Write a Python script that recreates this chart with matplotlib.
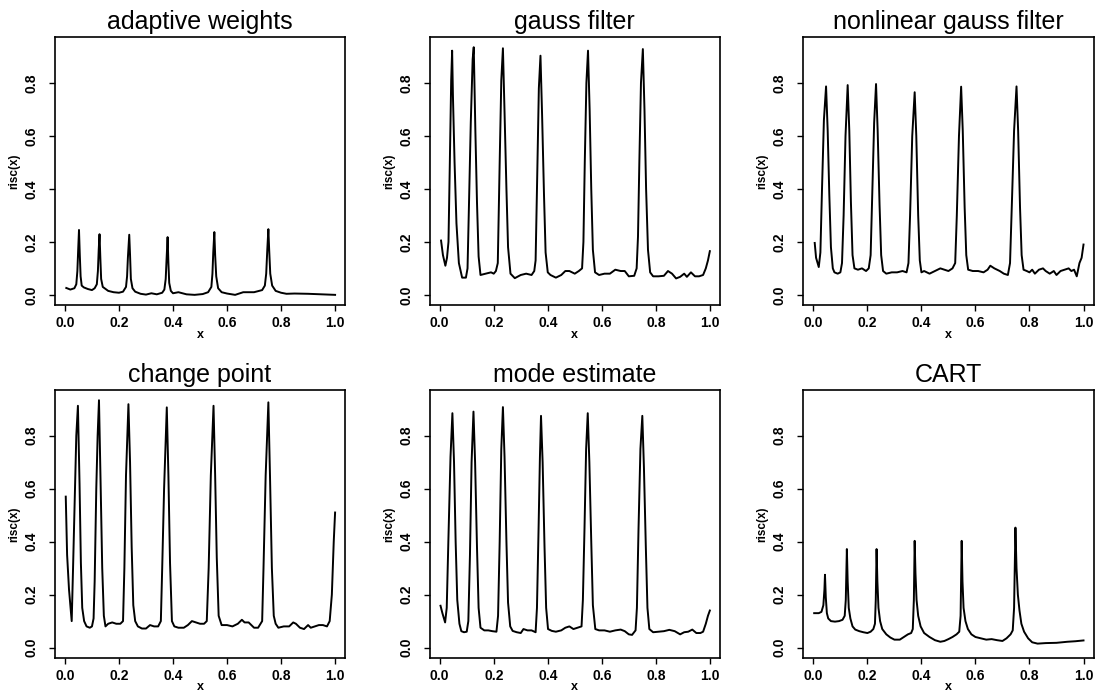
'''
risc(x) for six estimators, 2x3 panel figure
'''

import matplotlib
matplotlib.use('Agg')
import matplotlib.pyplot as plt

plt.rcParams['font.family'] = ['Liberation Sans', 'DejaVu Sans']

titles = ['adaptive weights', 'gauss filter', 'nonlinear gauss filter',
          'change point', 'mode estimate', 'CART']

# (x, risc) points
aw_pts = [(0.005, 0.026), (0.02, 0.02), (0.035, 0.025), (0.042, 0.04), (0.046, 0.09),
          (0.049, 0.17), (0.052, 0.245), (0.055, 0.15), (0.058, 0.07), (0.062, 0.035),
          (0.07, 0.028), (0.085, 0.022), (0.1, 0.018), (0.11, 0.025), (0.118, 0.04),
          (0.122, 0.09), (0.125, 0.17), (0.128, 0.229), (0.131, 0.14), (0.134, 0.06),
          (0.14, 0.03), (0.16, 0.015), (0.18, 0.01), (0.2, 0.008), (0.215, 0.012),
          (0.226, 0.03), (0.23, 0.07), (0.233, 0.14), (0.238, 0.227), (0.241, 0.15),
          (0.244, 0.06), (0.25, 0.025), (0.26, 0.012), (0.28, 0.004), (0.3, 0.001),
          (0.32, 0.006), (0.34, 0.002), (0.36, 0.008), (0.368, 0.02), (0.373, 0.06),
          (0.376, 0.13), (0.38, 0.218), (0.383, 0.12), (0.386, 0.045), (0.392, 0.015),
          (0.4, 0.006), (0.42, 0.01), (0.45, 0.002), (0.48, 0.0), (0.51, 0.003),
          (0.53, 0.01), (0.542, 0.03), (0.546, 0.08), (0.549, 0.16), (0.553, 0.237),
          (0.556, 0.15), (0.56, 0.07), (0.567, 0.025), (0.58, 0.01), (0.6, 0.005),
          (0.63, 0.0), (0.66, 0.01), (0.7, 0.01), (0.73, 0.018), (0.74, 0.035),
          (0.745, 0.08), (0.749, 0.17), (0.753, 0.248), (0.756, 0.17), (0.76, 0.08),
          (0.767, 0.035), (0.78, 0.015), (0.8, 0.008), (0.82, 0.004), (0.85, 0.005),
          (0.9, 0.004), (0.95, 0.002), (1.0, 0.0)]

gauss_pts = [(0.005, 0.205), (0.012, 0.15), (0.021, 0.11), (0.027, 0.14), (0.0325, 0.2),
             (0.0375, 0.5), (0.0425, 0.81), (0.046, 0.922), (0.049, 0.75), (0.055, 0.5),
             (0.062, 0.27), (0.071, 0.12), (0.083, 0.065), (0.097, 0.065), (0.103, 0.1),
             (0.109, 0.37), (0.115, 0.65), (0.122, 0.89), (0.126, 0.935), (0.132, 0.62),
             (0.138, 0.35), (0.144, 0.145), (0.151, 0.075), (0.17, 0.08), (0.19, 0.085),
             (0.2, 0.08), (0.208, 0.09), (0.215, 0.12), (0.222, 0.5), (0.228, 0.81),
             (0.234, 0.931), (0.24, 0.69), (0.247, 0.4), (0.253, 0.18), (0.262, 0.08),
             (0.278, 0.063), (0.3, 0.075), (0.32, 0.08), (0.34, 0.075), (0.35, 0.09),
             (0.355, 0.13), (0.361, 0.45), (0.367, 0.78), (0.373, 0.903), (0.379, 0.68),
             (0.386, 0.38), (0.392, 0.16), (0.4, 0.085), (0.41, 0.075), (0.43, 0.065),
             (0.45, 0.075), (0.465, 0.09), (0.48, 0.09), (0.5, 0.08), (0.515, 0.09),
             (0.527, 0.1), (0.532, 0.2), (0.537, 0.5), (0.543, 0.8), (0.549, 0.922),
             (0.555, 0.7), (0.561, 0.4), (0.567, 0.17), (0.575, 0.085), (0.59, 0.075),
             (0.61, 0.08), (0.63, 0.08), (0.65, 0.095), (0.67, 0.09), (0.685, 0.09),
             (0.7, 0.07), (0.72, 0.072), (0.729, 0.1), (0.734, 0.22), (0.739, 0.5),
             (0.745, 0.8), (0.752, 0.928), (0.758, 0.7), (0.764, 0.4), (0.771, 0.17),
             (0.779, 0.085), (0.79, 0.07), (0.81, 0.07), (0.83, 0.072), (0.845, 0.09),
             (0.86, 0.08), (0.875, 0.062), (0.89, 0.068), (0.905, 0.08), (0.915, 0.068),
             (0.93, 0.085), (0.945, 0.07), (0.96, 0.07), (0.975, 0.075), (0.985, 0.1),
             (0.993, 0.13), (1.0, 0.165)]

nlgauss_pts = [(0.005, 0.196), (0.01, 0.14), (0.02, 0.105), (0.026, 0.16), (0.032, 0.4),
               (0.039, 0.66), (0.047, 0.787), (0.053, 0.62), (0.059, 0.38), (0.065, 0.18),
               (0.072, 0.1), (0.078, 0.085), (0.09, 0.08), (0.1, 0.085), (0.106, 0.12),
               (0.112, 0.3), (0.119, 0.6), (0.127, 0.792), (0.133, 0.62), (0.139, 0.35),
               (0.145, 0.15), (0.152, 0.1), (0.165, 0.095), (0.18, 0.1), (0.195, 0.09),
               (0.205, 0.1), (0.212, 0.15), (0.218, 0.38), (0.225, 0.65), (0.232, 0.796),
               (0.238, 0.62), (0.245, 0.34), (0.251, 0.15), (0.258, 0.09), (0.27, 0.08),
               (0.29, 0.085), (0.31, 0.085), (0.33, 0.09), (0.345, 0.085), (0.352, 0.12),
               (0.358, 0.3), (0.366, 0.6), (0.375, 0.765), (0.381, 0.6), (0.388, 0.3),
               (0.394, 0.13), (0.4, 0.085), (0.41, 0.09), (0.43, 0.08), (0.45, 0.09),
               (0.47, 0.1), (0.485, 0.095), (0.5, 0.09), (0.515, 0.1), (0.525, 0.12),
               (0.531, 0.3), (0.539, 0.6), (0.547, 0.786), (0.553, 0.62), (0.56, 0.33),
               (0.566, 0.15), (0.573, 0.095), (0.59, 0.09), (0.61, 0.09), (0.63, 0.085),
               (0.645, 0.095), (0.655, 0.11), (0.67, 0.1), (0.69, 0.09), (0.705, 0.08),
               (0.72, 0.075), (0.728, 0.12), (0.735, 0.35), (0.743, 0.62), (0.752, 0.787),
               (0.758, 0.62), (0.765, 0.33), (0.771, 0.15), (0.778, 0.095), (0.79, 0.09),
               (0.8, 0.085), (0.81, 0.095), (0.82, 0.08), (0.835, 0.095), (0.85, 0.1),
               (0.86, 0.09), (0.875, 0.08), (0.89, 0.09), (0.9, 0.075), (0.915, 0.09),
               (0.93, 0.095), (0.945, 0.1), (0.955, 0.09), (0.965, 0.095), (0.975, 0.07),
               (0.985, 0.12), (0.993, 0.14), (1.0, 0.19)]

cp_pts = [(0.003, 0.57), (0.008, 0.35), (0.015, 0.22), (0.025, 0.1), (0.03, 0.3),
          (0.036, 0.55), (0.042, 0.8), (0.048, 0.913), (0.054, 0.62), (0.059, 0.32),
          (0.064, 0.15), (0.071, 0.1), (0.08, 0.08), (0.092, 0.075), (0.1, 0.08),
          (0.106, 0.11), (0.11, 0.25), (0.116, 0.6), (0.121, 0.8), (0.126, 0.934),
          (0.132, 0.62), (0.138, 0.3), (0.144, 0.12), (0.15, 0.08), (0.16, 0.09),
          (0.175, 0.095), (0.19, 0.09), (0.205, 0.09), (0.215, 0.1), (0.22, 0.3),
          (0.226, 0.65), (0.235, 0.919), (0.241, 0.7), (0.247, 0.38), (0.253, 0.16),
          (0.26, 0.1), (0.27, 0.08), (0.285, 0.072), (0.3, 0.072), (0.315, 0.085),
          (0.33, 0.08), (0.345, 0.08), (0.355, 0.1), (0.36, 0.3), (0.367, 0.6),
          (0.377, 0.907), (0.383, 0.65), (0.389, 0.32), (0.396, 0.1), (0.405, 0.08),
          (0.42, 0.075), (0.44, 0.075), (0.455, 0.085), (0.47, 0.1), (0.485, 0.095),
          (0.5, 0.09), (0.515, 0.09), (0.525, 0.1), (0.532, 0.3), (0.54, 0.65),
          (0.55, 0.913), (0.556, 0.65), (0.562, 0.34), (0.569, 0.12), (0.58, 0.085),
          (0.6, 0.085), (0.62, 0.08), (0.64, 0.09), (0.655, 0.105), (0.665, 0.095),
          (0.68, 0.095), (0.7, 0.075), (0.715, 0.075), (0.73, 0.1), (0.735, 0.3),
          (0.743, 0.65), (0.753, 0.926), (0.759, 0.65), (0.766, 0.3), (0.773, 0.12),
          (0.78, 0.09), (0.79, 0.075), (0.81, 0.08), (0.83, 0.08), (0.845, 0.095),
          (0.855, 0.09), (0.87, 0.075), (0.885, 0.07), (0.9, 0.085), (0.91, 0.075),
          (0.925, 0.08), (0.94, 0.085), (0.955, 0.085), (0.97, 0.08), (0.98, 0.1),
          (0.988, 0.2), (0.995, 0.4), (1.0, 0.51)]

mode_pts = [(0.003, 0.158), (0.01, 0.13), (0.02, 0.095), (0.026, 0.15), (0.032, 0.4),
            (0.04, 0.72), (0.047, 0.885), (0.053, 0.7), (0.059, 0.4), (0.065, 0.18),
            (0.073, 0.09), (0.08, 0.062), (0.09, 0.058), (0.1, 0.06), (0.106, 0.1),
            (0.112, 0.35), (0.118, 0.7), (0.125, 0.891), (0.131, 0.7), (0.138, 0.38),
            (0.144, 0.15), (0.151, 0.075), (0.165, 0.065), (0.18, 0.065), (0.195, 0.062),
            (0.21, 0.06), (0.216, 0.12), (0.222, 0.4), (0.228, 0.75), (0.234, 0.908),
            (0.24, 0.72), (0.247, 0.4), (0.253, 0.17), (0.261, 0.08), (0.27, 0.063),
            (0.285, 0.058), (0.3, 0.055), (0.31, 0.07), (0.325, 0.065), (0.34, 0.065),
            (0.355, 0.058), (0.36, 0.15), (0.366, 0.45), (0.371, 0.72), (0.375, 0.875),
            (0.381, 0.7), (0.388, 0.38), (0.394, 0.15), (0.401, 0.07), (0.415, 0.063),
            (0.43, 0.06), (0.45, 0.065), (0.465, 0.075), (0.48, 0.08), (0.495, 0.07),
            (0.51, 0.075), (0.525, 0.08), (0.53, 0.18), (0.536, 0.45), (0.542, 0.75),
            (0.548, 0.885), (0.554, 0.7), (0.561, 0.4), (0.567, 0.16), (0.576, 0.07),
            (0.59, 0.065), (0.61, 0.065), (0.63, 0.06), (0.65, 0.065), (0.67, 0.068),
            (0.685, 0.062), (0.7, 0.05), (0.712, 0.048), (0.725, 0.065), (0.73, 0.15),
            (0.736, 0.45), (0.743, 0.75), (0.75, 0.875), (0.756, 0.68), (0.763, 0.38),
            (0.769, 0.15), (0.776, 0.07), (0.79, 0.058), (0.81, 0.06), (0.83, 0.062),
            (0.85, 0.067), (0.87, 0.062), (0.89, 0.05), (0.905, 0.058), (0.92, 0.06),
            (0.935, 0.068), (0.95, 0.055), (0.965, 0.055), (0.975, 0.06), (0.985, 0.09),
            (0.993, 0.12), (1.0, 0.14)]

cart_pts = [(0.003, 0.13), (0.02, 0.13), (0.03, 0.135), (0.037, 0.16), (0.041, 0.22),
            (0.043, 0.275), (0.046, 0.19), (0.05, 0.13), (0.055, 0.11), (0.065, 0.1),
            (0.08, 0.098), (0.095, 0.1), (0.108, 0.105), (0.116, 0.12), (0.12, 0.18),
            (0.124, 0.372), (0.127, 0.25), (0.131, 0.15), (0.137, 0.11), (0.145, 0.08),
            (0.155, 0.068), (0.17, 0.062), (0.185, 0.058), (0.2, 0.055), (0.212, 0.06),
            (0.222, 0.07), (0.228, 0.09), (0.231, 0.18), (0.234, 0.372), (0.237, 0.25),
            (0.241, 0.15), (0.247, 0.1), (0.255, 0.07), (0.27, 0.05), (0.285, 0.038),
            (0.3, 0.03), (0.32, 0.03), (0.335, 0.04), (0.35, 0.05), (0.362, 0.055),
            (0.368, 0.07), (0.372, 0.18), (0.375, 0.403), (0.378, 0.28), (0.382, 0.18),
            (0.388, 0.12), (0.397, 0.08), (0.41, 0.055), (0.43, 0.04), (0.45, 0.028),
            (0.47, 0.022), (0.485, 0.025), (0.5, 0.032), (0.515, 0.04), (0.53, 0.05),
            (0.54, 0.06), (0.545, 0.12), (0.549, 0.403), (0.552, 0.25), (0.556, 0.15),
            (0.563, 0.1), (0.572, 0.07), (0.585, 0.05), (0.6, 0.04), (0.62, 0.035),
            (0.64, 0.03), (0.66, 0.032), (0.68, 0.028), (0.7, 0.025), (0.715, 0.035),
            (0.73, 0.05), (0.738, 0.065), (0.743, 0.15), (0.748, 0.453), (0.752, 0.3),
            (0.757, 0.2), (0.763, 0.14), (0.77, 0.09), (0.78, 0.06), (0.795, 0.035),
            (0.81, 0.02), (0.83, 0.015), (0.86, 0.017), (0.9, 0.018), (0.94, 0.022),
            (0.97, 0.024), (1.0, 0.027)]

series = [aw_pts, gauss_pts, nlgauss_pts, cp_pts, mode_pts, cart_pts]

xticks = [0.0, 0.2, 0.4, 0.6, 0.8, 1.0]
yticks = [0.0, 0.2, 0.4, 0.6, 0.8]

fig = plt.figure(figsize=(10.99, 6.93), dpi=100)

lefts = [0.050, 0.391, 0.731]
bottoms = [0.560, 0.051]
w, h = 0.264, 0.386

for i, (title, pts) in enumerate(zip(titles, series)):
    ax = fig.add_axes([lefts[i % 3], bottoms[i // 3], w, h])
    x, y = zip(*pts)
    ax.plot(x, y, color='black', lw=1.4)
    ax.set_xlim(-0.037, 1.037)
    ax.set_ylim(-0.038, 0.972)
    ax.set_xticks(xticks)
    ax.set_yticks(yticks)
    ax.set_xticklabels(['%.1f' % t for t in xticks], fontsize=10, fontweight='bold')
    ax.set_yticklabels(['%.1f' % t for t in yticks], fontsize=10, fontweight='bold',
                       rotation=90, va='center')
    ax.tick_params(axis='x', direction='out', length=4.5, width=1, pad=3.5)
    ax.tick_params(axis='y', direction='out', length=4.5, width=1, pad=7.5)
    for s in ax.spines.values():
        s.set_linewidth(1.2)
    ax.set_title(title, fontsize=18, pad=6)
    ax.set_xlabel('x', fontsize=9, fontweight='bold', labelpad=-1)
    ax.set_ylabel('risc(x)', fontsize=8.5, fontweight='bold', labelpad=3)

plt.savefig('out.png', dpi=100)
print('DONE')
